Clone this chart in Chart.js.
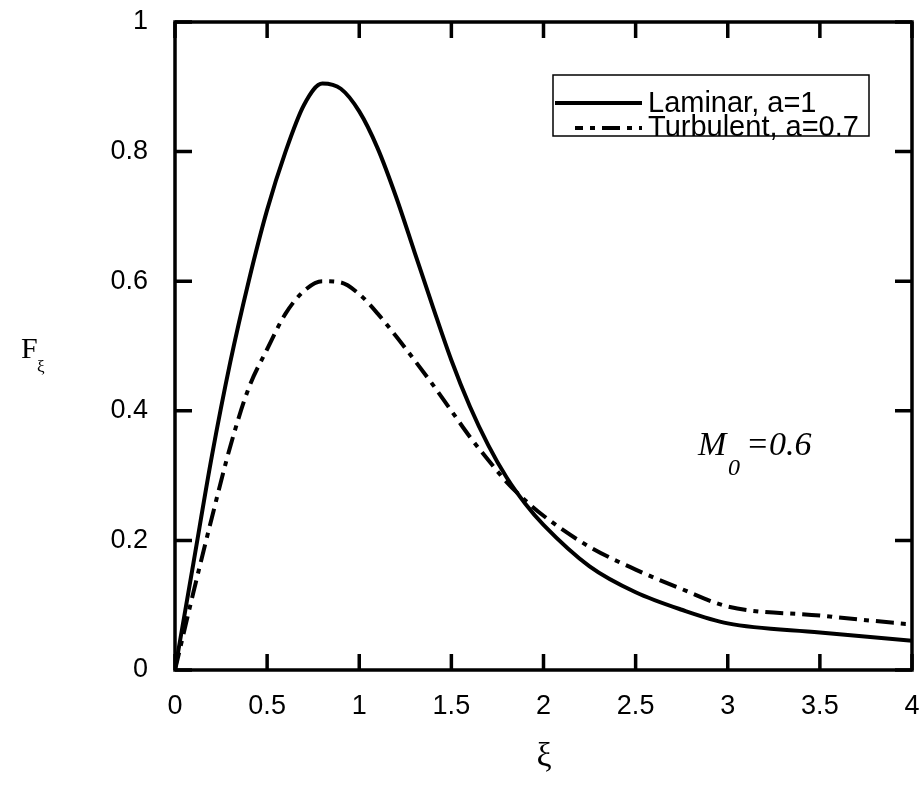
<!DOCTYPE html>
<html>
<head>
<meta charset="utf-8">
<script src="https://cdn.jsdelivr.net/npm/chart.js@4.4.1/dist/chart.umd.min.js"></script>
<style>
  html, body { margin: 0; padding: 0; background: #fff; }
  #wrap { width: 923px; height: 786px; }
</style>
</head>
<body>
<div id="wrap"><canvas id="chart"></canvas></div>
<script>
// data
const xi = [0, 0.1, 0.2, 0.3, 0.4, 0.5, 0.6, 0.7, 0.8, 0.9, 1.0, 1.1, 1.2, 1.3, 1.4,
  1.5, 1.6, 1.7, 1.8, 1.9, 2.0, 2.25, 2.5, 2.75, 3.0, 3.5, 4.0];
const laminar = [0, 0.165, 0.33, 0.475, 0.60, 0.71, 0.80, 0.872, 0.905, 0.897, 0.862, 0.805,
  0.73, 0.645, 0.56, 0.478, 0.407, 0.347, 0.297, 0.257, 0.224, 0.16, 0.12, 0.093, 0.072, 0.058, 0.045];
const turbulent = [0, 0.12, 0.235, 0.345, 0.435, 0.495, 0.55, 0.585, 0.6, 0.598, 0.58, 0.55,
  0.515, 0.478, 0.44, 0.40, 0.36, 0.324, 0.29, 0.262, 0.238, 0.19, 0.155, 0.125, 0.098, 0.084, 0.07];
const xTicks = [0, 0.5, 1, 1.5, 2, 2.5, 3, 3.5, 4];
const yTicks = [0, 0.2, 0.4, 0.6, 0.8, 1];
const seriesNames = ["Laminar, a=1", "Turbulent, a=0.7"];

const sansFont = "'Liberation Sans', Arial, sans-serif";
const serifFont = "'Liberation Serif', 'Times New Roman', serif";
const dashPattern = [18, 7, 5, 7];

const toPoints = ys => xi.map((x, i) => ({ x: x, y: ys[i] }));

// box frame, inward ticks, legend and the math labels
const decorations = {
  id: "decorations",
  afterDatasetsDraw(chart) {
    const { ctx, chartArea: a, scales: { x, y } } = chart;
    ctx.save();
    ctx.strokeStyle = "#000";
    ctx.lineWidth = 3.5;
    ctx.strokeRect(a.left, a.top, a.right - a.left, a.bottom - a.top);

    ctx.beginPath();
    xTicks.forEach(v => {
      const px = x.getPixelForValue(v);
      ctx.moveTo(px, a.bottom); ctx.lineTo(px, a.bottom - 16);
      ctx.moveTo(px, a.top); ctx.lineTo(px, a.top + 16);
    });
    yTicks.forEach(v => {
      const py = y.getPixelForValue(v);
      ctx.moveTo(a.left, py); ctx.lineTo(a.left + 17, py);
      ctx.moveTo(a.right, py); ctx.lineTo(a.right - 17, py);
    });
    ctx.stroke();

    // legend box
    ctx.lineWidth = 1.5;
    ctx.strokeRect(553, 75, 316, 61);
    ctx.lineWidth = 4;
    ctx.beginPath();
    ctx.moveTo(555, 103); ctx.lineTo(642, 103);
    ctx.stroke();
    ctx.setLineDash(dashPattern);
    ctx.lineDashOffset = 10;
    ctx.beginPath();
    ctx.moveTo(575, 128); ctx.lineTo(642, 128);
    ctx.stroke();
    ctx.setLineDash([]);
    ctx.fillStyle = "#000";
    ctx.font = "29px " + sansFont;
    ctx.textBaseline = "middle";
    ctx.textAlign = "left";
    ctx.fillText(seriesNames[0], 648, 104);
    ctx.fillText(seriesNames[1], 648, 128);

    // axis titles
    ctx.textBaseline = "alphabetic";
    ctx.font = "30px " + serifFont;
    ctx.fillText("F", 21, 358);
    ctx.font = "17px " + serifFont;
    ctx.fillText("ξ", 37, 372);
    ctx.font = "34px " + serifFont;
    ctx.textAlign = "center";
    ctx.fillText("ξ", 544, 766);

    // annotation
    ctx.textAlign = "left";
    ctx.font = "italic 34px " + serifFont;
    ctx.fillText("M", 698, 455);
    ctx.font = "italic 24px " + serifFont;
    ctx.fillText("0", 728, 475);
    ctx.font = "italic 34px " + serifFont;
    ctx.fillText("=0.6", 746, 455);
    ctx.restore();
  }
};

new Chart(document.getElementById("chart"), {
  type: "line",
  data: {
    datasets: [
      {
        label: seriesNames[0],
        data: toPoints(laminar),
        borderColor: "#000",
        borderWidth: 4,
        pointRadius: 0,
        cubicInterpolationMode: "monotone",
        fill: false,
      },
      {
        label: seriesNames[1],
        data: toPoints(turbulent),
        borderColor: "#000",
        borderWidth: 4,
        borderDash: dashPattern,
        pointRadius: 0,
        cubicInterpolationMode: "monotone",
        fill: false,
      },
    ],
  },
  options: {
    responsive: true,
    maintainAspectRatio: false,
    animation: false,
    layout: { padding: { left: 0, right: 11, top: 22, bottom: 0 } },
    plugins: { legend: { display: false }, tooltip: { enabled: false } },
    scales: {
      x: {
        type: "linear",
        min: 0,
        max: 4,
        grid: { display: false, drawTicks: false },
        border: { display: false },
        afterBuildTicks: s => { s.ticks = xTicks.map(v => ({ value: v })); },
        afterFit: s => { s.height = 116; s.paddingLeft = 0; s.paddingRight = 0; },
        ticks: {
          color: "#000",
          padding: 20,
          maxRotation: 0,
          font: { family: sansFont, size: 27 },
          callback: v => String(v),
        },
      },
      y: {
        type: "linear",
        min: 0,
        max: 1,
        grid: { display: false, drawTicks: false },
        border: { display: false },
        afterBuildTicks: s => { s.ticks = yTicks.map(v => ({ value: v })); },
        afterFit: s => { s.width = 175; s.paddingTop = 0; s.paddingBottom = 0; },
        ticks: {
          color: "#000",
          padding: 27,
          font: { family: sansFont, size: 27 },
          callback: v => String(v),
        },
      },
    },
  },
  plugins: [decorations],
});
</script>
</body>
</html>
